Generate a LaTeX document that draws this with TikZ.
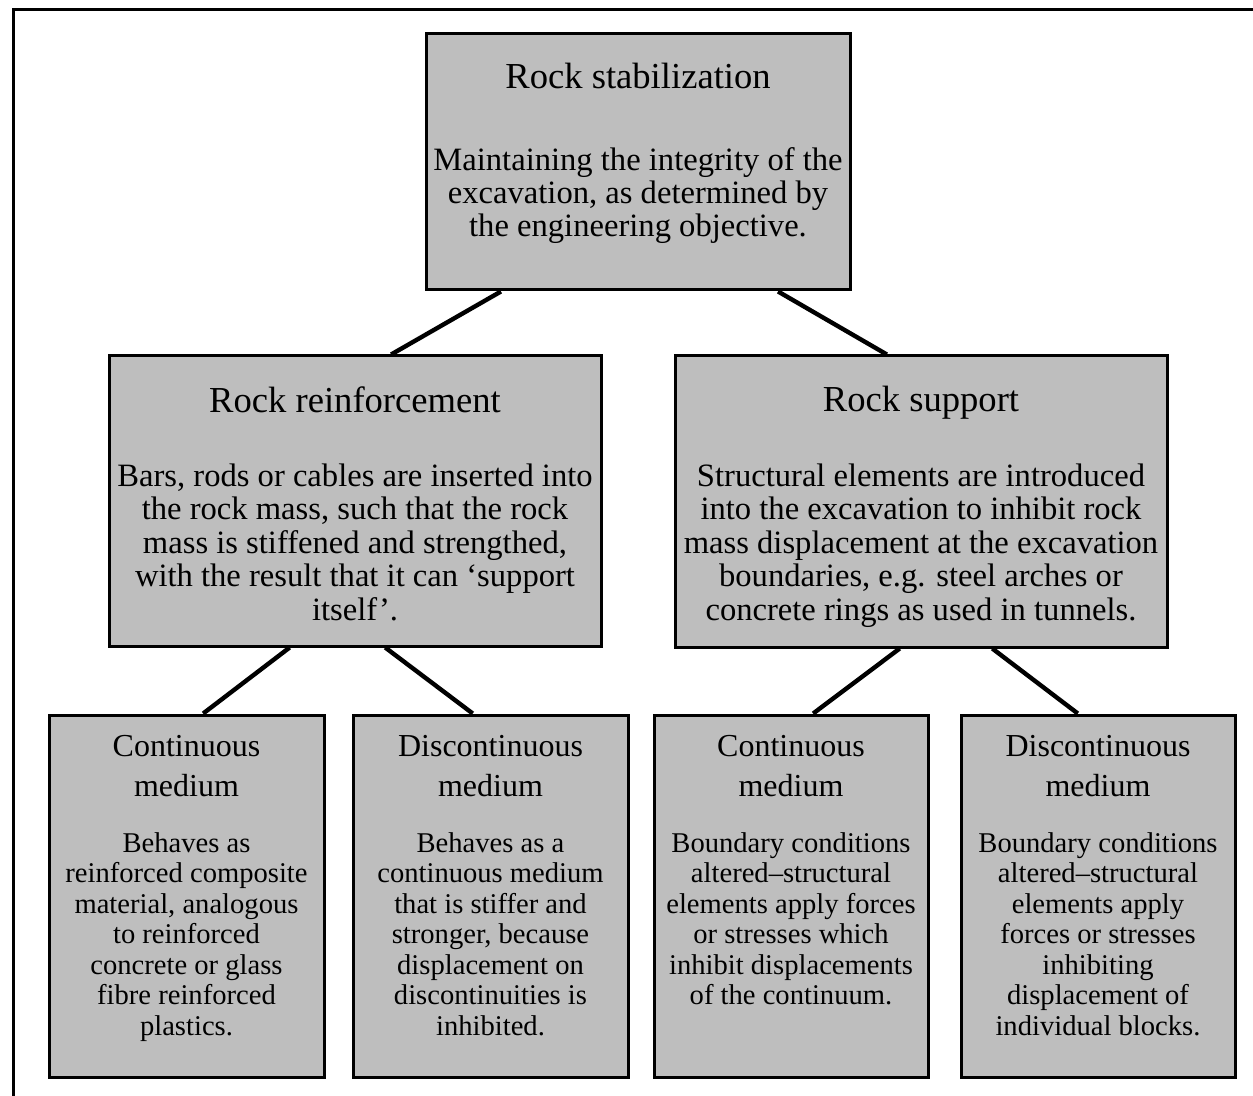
\documentclass[tikz,border=0pt]{standalone}
\usepackage{fontspec}
\setmainfont{Liberation Serif}
\usetikzlibrary{calc,fit}
\definecolor{boxfill}{RGB}{190,190,190}
\begin{document}
\begin{tikzpicture}[x=0.5pt,y=-0.5pt,
  box/.style={draw=black, line width=1.5pt, fill=boxfill, inner sep=0pt},
  conn/.style={draw=black, line width=2.2pt},
  frameline/.style={draw=black, line width=1.5pt},
  ttlA/.style={font=\fontsize{18.3}{20}\selectfont, align=center, inner sep=0pt, anchor=north},
  bodyA/.style={font=\fontsize{16.3}{16.5}\selectfont, align=center, inner sep=0pt, anchor=north},
  bodyB/.style={font=\fontsize{16.3}{16.75}\selectfont, align=center, inner sep=0pt, anchor=north},
  ttlC/.style={font=\fontsize{16}{20}\selectfont, align=center, inner sep=0pt, anchor=north},
  bodyC/.style={font=\fontsize{14.3}{15.25}\selectfont, align=center, inner sep=0pt, anchor=north}]

\useasboundingbox (0,0) rectangle (1253,1096);

% outer frame (only top and left edges visible)
\coordinate (fTR) at (1253,10);
\coordinate (fTL) at (13,10);
\coordinate (fBL) at (13,1096);
\draw[frameline] (fTR) -- (fTL) -- (fBL);

% boxes
\node[box, fit={(426,34) (850,290)}] (top) {};
\node[box, fit={(109,356) (601,646)}] (rr) {};
\node[box, fit={(675,356) (1167,647)}] (rs) {};
\node[box, fit={(49,715) (324,1077)}] (b1) {};
\node[box, fit={(353,715) (628,1077)}] (b2) {};
\node[box, fit={(654,715) (928,1077)}] (b3) {};
\node[box, fit={(961,715) (1235,1077)}] (b4) {};

% texts
\node[ttlA] (topT) at (638,63) {Rock stabilization};
\node[bodyA] (topB) at (638,147) {Maintaining the integrity of the\\excavation, as determined by\\the engineering objective.};

\node[ttlA] (rrT) at (355,386) {Rock reinforcement};
\node[bodyB] (rrB) at (355,463) {Bars, rods or cables are inserted into\\the rock mass, such that the rock\\mass is stiffened and strengthed,\\with the result that it can `support\\itself'.};

\node[ttlA] (rsT) at (921,386) {Rock support};
\node[bodyB] (rsB) at (921,463) {Structural elements are introduced\\into the excavation to inhibit rock\\mass displacement at the excavation\\boundaries, e.g. steel arches or\\concrete rings as used in tunnels.};

\node[ttlC] (b1T) at (186.5,735) {Continuous\\medium};
\node[bodyC] (b1B) at (186.5,832) {Behaves as\\reinforced composite\\material, analogous\\to reinforced\\concrete or glass\\fibre reinforced\\plastics.};

\node[ttlC] (b2T) at (490.5,735) {Discontinuous\\medium};
\node[bodyC] (b2B) at (490.5,832) {Behaves as a\\continuous medium\\that is stiffer and\\stronger, because\\displacement on\\discontinuities is\\inhibited.};

\node[ttlC] (b3T) at (791,735) {Continuous\\medium};
\node[bodyC] (b3B) at (791,832) {Boundary conditions\\altered--structural\\elements apply forces\\or stresses which\\inhibit displacements\\of the continuum.};

\node[ttlC] (b4T) at (1098,735) {Discontinuous\\medium};
\node[bodyC] (b4B) at (1098,832) {Boundary conditions\\altered--structural\\elements apply\\forces or stresses\\inhibiting\\displacement of\\individual blocks.};

% connectors
\draw[conn] ($(top.south west)!0.179!(top.south east)$) -- ($(rr.north west)!0.573!(rr.north east)$);
\draw[conn] ($(top.south west)!0.828!(top.south east)$) -- ($(rs.north west)!0.431!(rs.north east)$);
\draw[conn] ($(rr.south west)!0.368!(rr.south east)$) -- ($(b1.north west)!0.56!(b1.north east)$);
\draw[conn] ($(rr.south west)!0.561!(rr.south east)$) -- ($(b2.north west)!0.436!(b2.north east)$);
\draw[conn] ($(rs.south west)!0.457!(rs.south east)$) -- ($(b3.north west)!0.58!(b3.north east)$);
\draw[conn] ($(rs.south west)!0.644!(rs.south east)$) -- ($(b4.north west)!0.427!(b4.north east)$);
\end{tikzpicture}
\end{document}
